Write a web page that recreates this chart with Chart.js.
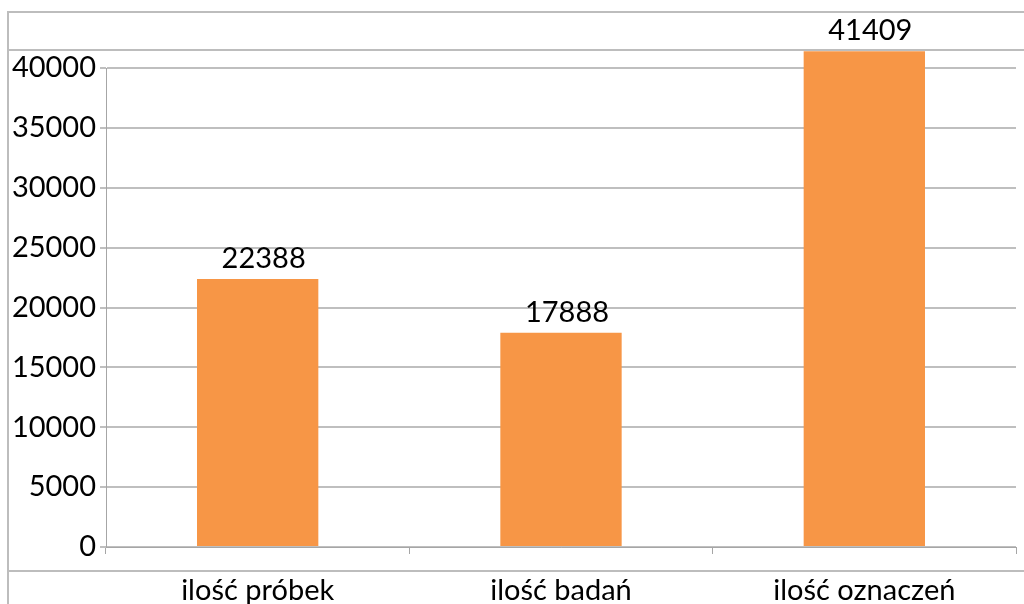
<!DOCTYPE html>
<html>
<head>
<meta charset="utf-8">
<script src="https://cdn.jsdelivr.net/npm/chart.js@4/dist/chart.umd.min.js"></script>
<style>
  body { margin: 0; background: #fff; }
  #wrap { position: relative; width: 1024px; height: 604px; overflow: hidden; }
  .ln { position: absolute; background: #bdbdbd; }
  canvas { position: absolute; left: 0; top: 0; }
</style>
</head>
<body>
<div id="wrap">
  <div class="ln" style="left:8px;top:11px;width:1016px;height:2px"></div>
  <div class="ln" style="left:8px;top:49px;width:1016px;height:2px"></div>
  <div class="ln" style="left:8px;top:570px;width:1016px;height:2px"></div>
  <div class="ln" style="left:7px;top:11px;width:2px;height:593px"></div>
  <canvas id="chart1" width="1024" height="604"></canvas>
</div>
<script>
var categories = ["ilość próbek", "ilość badań", "ilość oznaczeń"];
var values = [22388, 17888, 41409];
var yTicks = [0, 5000, 10000, 15000, 20000, 25000, 30000, 35000, 40000];

var FONT = "Lato, 'Open Sans', sans-serif";

// podpisy wartości nad słupkami
var valueLabels = {
  id: 'valueLabels',
  afterDatasetsDraw: function(chart){
    var ctx = chart.ctx;
    var meta = chart.getDatasetMeta(0);
    ctx.save();
    ctx.font = "29px " + FONT;
    ctx.fillStyle = "#000";
    ctx.textAlign = "center";
    ctx.textBaseline = "middle";
    meta.data.forEach(function(bar, i){
      ctx.fillText(String(values[i]), bar.x + 6, bar.y - 20);
    });
    ctx.restore();
  }
};

var ctx = document.getElementById("chart1").getContext("2d");
var myChart = new Chart(ctx, {
  type: 'bar',
  data: {
    labels: categories,
    datasets: [{
      data: values,
      backgroundColor: "#F79646",
      borderWidth: 0,
      barPercentage: 0.8,
      categoryPercentage: 0.5,
      clip: false
    }]
  },
  options: {
    responsive: false,
    animation: false,
    events: [],
    layout: { padding: { left: 0, right: 8, top: 68, bottom: 0 } },
    plugins: { legend: { display: false }, tooltip: { enabled: false } },
    scales: {
      x: {
        grid: { drawOnChartArea: false, drawTicks: true, tickLength: 7, color: "#a6a6a6", offset: true },
        border: { display: true, color: "#a6a6a6", width: 1 },
        ticks: { color: "#000", font: { family: FONT, size: 29 }, padding: 19, maxRotation: 0 },
        afterFit: function(scale){ scale.height = 57; }
      },
      y: {
        min: 0,
        max: 40000,
        afterBuildTicks: function(scale){
          scale.ticks = yTicks.map(function(v){ return { value: v }; });
        },
        grid: { color: "#bfbfbf", lineWidth: 2, tickLength: 6, drawTicks: true },
        border: { display: true, color: "#a6a6a6", width: 1 },
        ticks: {
          color: "#000", font: { family: FONT, size: 29 }, padding: 4,
          callback: function(v){ return String(v); }
        },
        afterFit: function(scale){ scale.width = 106; }
      }
    }
  },
  plugins: [valueLabels]
});
</script>
</body>
</html>
